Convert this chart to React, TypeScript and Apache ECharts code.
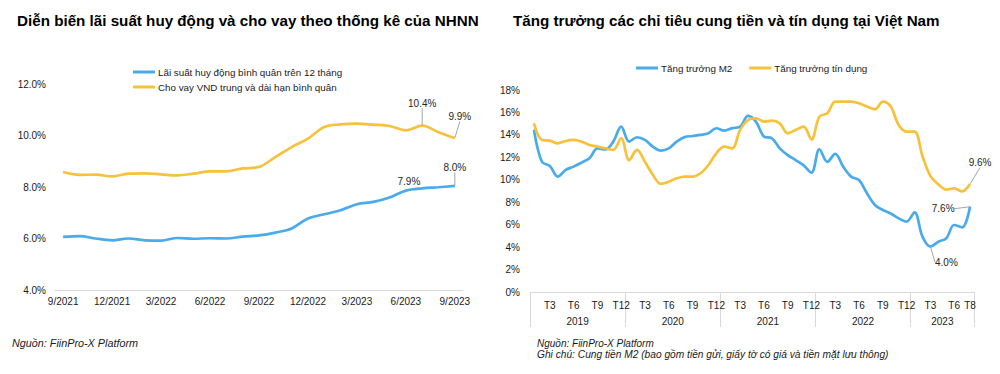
import React, { useEffect, useRef } from 'react';
import * as echarts from 'echarts';

const FONT = '"Liberation Sans", Arial, Helvetica, sans-serif';
const BLUE = '#4AABEB';
const YELLOW = '#F7C13C';
const TEXT = '#1a1a1a';
const AXIS_GRAY = '#d9d9d9';
const LEADER = '#a6a6a6';

// ---------- Left chart ----------
const leftTitle = 'Diễn biến lãi suất huy động và cho vay theo thống kê của NHNN';
const leftMonths = [
  '9/2021', '10/2021', '11/2021', '12/2021', '1/2022', '2/2022', '3/2022', '4/2022', '5/2022',
  '6/2022', '7/2022', '8/2022', '9/2022', '10/2022', '11/2022', '12/2022', '1/2023', '2/2023',
  '3/2023', '4/2023', '5/2023', '6/2023', '7/2023', '8/2023', '9/2023',
];
const depositName = 'Lãi suất huy động bình quân trên 12 tháng';
const lendingName = 'Cho vay VND trung và dài hạn bình quân';
const depositRate = [
  6.06, 6.09, 6.0, 5.93, 6.0, 5.93, 5.92, 6.02, 5.99, 6.01, 6.0, 6.07, 6.12,
  6.23, 6.39, 6.78, 6.94, 7.1, 7.33, 7.42, 7.59, 7.86, 7.95, 7.99, 8.04,
];
const lendingRate = [
  8.58, 8.47, 8.48, 8.41, 8.52, 8.53, 8.49, 8.45, 8.52, 8.61, 8.61, 8.72, 8.78,
  9.16, 9.55, 9.88, 10.33, 10.43, 10.46, 10.42, 10.37, 10.2, 10.38, 10.13, 9.9,
];
const leftYMin = 4;
const leftYMax = 12;
const leftYStep = 2;
const depositLabelled = [21, 24];
const lendingLabelled = [22, 24];

// ---------- Right chart ----------
const rightTitle = 'Tăng trưởng các chỉ tiêu cung tiền và tín dụng tại Việt Nam';
const years = [2019, 2020, 2021, 2022, 2023];
const monthsPerYear = [12, 12, 12, 12, 8];
const m2Name = 'Tăng trưởng M2';
const creditName = 'Tăng trưởng tín dụng';
const m2Growth = [
  14.44, 11.6, 11.23, 10.28, 10.88, 11.17, 11.53, 11.91, 12.8, 12.7, 13.4, 14.73,
  13.4, 13.79, 13.55, 12.95, 12.6, 12.8, 13.4, 13.8, 13.9, 14.0, 14.15, 14.59,
  14.38, 14.6, 14.73, 15.69, 15.18, 13.85, 13.7, 12.8, 12.2, 11.76, 11.3, 10.63,
  12.72, 11.6, 12.3, 11.17, 10.28, 9.98, 8.8, 7.75, 7.31, 7.0, 6.56, 6.27,
  7.1, 4.93, 4.04, 4.48, 4.78, 5.97, 5.76, 7.6,
];
const creditGrowth = [
  15.03, 13.55, 13.49, 13.25, 13.46, 13.55, 13.4, 13.1, 12.95, 12.8, 12.66, 13.7,
  11.76, 12.66, 11.6, 10.43, 9.63, 9.83, 10.13, 10.28, 10.28, 10.58, 11.32, 12.36,
  12.95, 12.8, 14.44, 15.33, 15.48, 15.18, 15.27, 15.03, 14.14, 14.44, 14.73, 13.6,
  15.63, 15.92, 16.96, 16.96, 16.96, 16.82, 16.52, 16.28, 16.96, 16.52, 14.88, 14.29,
  14.29, 12.1, 10.35, 9.6, 9.12, 9.24, 8.96, 9.62,
];
const rightYMin = 0;
const rightYMax = 18;
const rightYStep = 2;
const m2Labelled = [50, 55];
const creditLabelled = [55];
const leftSource = 'Nguồn: FiinPro-X Platform';
const rightSource = 'Nguồn: FiinPro-X Platform';
const rightNote = 'Ghi chú: Cung tiền M2 (bao gồm tiền gửi, giấy tờ có giá và tiền mặt lưu thông)';

const rightMonths: string[] = [];
years.forEach((y, i) => {
  for (let m = 1; m <= monthsPerYear[i]; m++) rightMonths.push(`${y}-${m}`);
});

// label placement styles (offsets in px, relative to the default label position)
const labelStyle: Record<string, Record<number, any>> = {
  deposit: {
    21: { position: 'top', dx: 3, dy: 1, line: false },
    24: { position: 'top', dx: 0, dy: -8, line: true },
  },
  lending: {
    22: { position: 'top', dx: 0, dy: -12, line: true },
    24: { position: 'top', dx: 5, dy: -11, line: true },
  },
  m2: {
    50: { position: 'bottom', dx: 16, dy: 5, line: true },
    55: { position: 'left', dx: -10, dy: 2, line: true },
  },
  credit: {
    55: { position: 'top', dx: 10, dy: -11, line: true },
  },
};

function buildData(values: number[], labelled: number[], key: string) {
  return values.map((v, i) => {
    if (!labelled.includes(i)) return v;
    const s = labelStyle[key][i];
    return {
      value: v,
      label: { show: true, position: s.position },
      labelLine: { show: s.line },
    };
  });
}

function layoutFor(key: string) {
  return (params: any) => {
    const s = labelStyle[key][params.dataIndex];
    if (!s) return {};
    return { dx: s.dx, dy: s.dy };
  };
}

function lineSeries(name: string, color: string, values: number[], labelled: number[], key: string, axisIndex: number) {
  return {
    name,
    type: 'line',
    xAxisIndex: axisIndex,
    yAxisIndex: axisIndex === 0 ? 0 : 1,
    data: buildData(values, labelled, key),
    smooth: 0.35,
    symbol: 'circle',
    symbolSize: 1,
    showSymbol: true,
    showAllSymbol: true,
    itemStyle: { color },
    lineStyle: { color, width: 2.7 },
    label: {
      show: false,
      color: '#262626',
      fontSize: 10,
      fontFamily: FONT,
      formatter: (p: any) => `${Number(p.value).toFixed(1)}%`,
    },
    labelLine: { show: true, lineStyle: { color: LEADER, width: 1 } },
    labelLayout: layoutFor(key),
    emphasis: { disabled: true },
  };
}

export default function App() {
  const ref = useRef<HTMLDivElement>(null);

  useEffect(() => {
    if (!ref.current) return;
    const chart = echarts.init(ref.current, undefined, { renderer: 'svg' });
    const axisLabelBase = { color: TEXT, fontSize: 10, fontFamily: FONT };

    chart.setOption({
      animation: false,
      backgroundColor: '#ffffff',
      textStyle: { fontFamily: FONT },
      title: [
        {
          text: leftTitle,
          left: 12,
          top: 8,
          textStyle: { fontSize: 15.2, fontWeight: 'bold', color: '#000', fontFamily: FONT },
        },
        {
          text: rightTitle,
          left: 508,
          top: 8,
          textStyle: { fontSize: 15.2, fontWeight: 'bold', color: '#000', fontFamily: FONT },
        },
      ],
      legend: [
        {
          data: [depositName, lendingName],
          orient: 'vertical',
          left: 128,
          top: 62,
          icon: 'rect',
          itemWidth: 22,
          itemHeight: 3,
          itemGap: 5,
          selectedMode: false,
          textStyle: { color: TEXT, fontSize: 9.8, fontFamily: FONT, padding: [0, 0, 0, -2] },
        },
        {
          data: [m2Name, creditName],
          orient: 'horizontal',
          left: 631,
          top: 58,
          icon: 'rect',
          itemWidth: 22,
          itemHeight: 3,
          itemGap: 17,
          selectedMode: false,
          textStyle: { color: TEXT, fontSize: 9.8, fontFamily: FONT, padding: [0, 0, 0, -2] },
        },
      ],
      grid: [
        { left: 55, width: 408, top: 84, bottom: 84, containLabel: false },
        { left: 530, width: 444, top: 90, bottom: 82, containLabel: false },
      ],
      xAxis: [
        {
          type: 'category',
          gridIndex: 0,
          data: leftMonths,
          boundaryGap: true,
          axisLine: { show: true, lineStyle: { color: AXIS_GRAY, width: 1 } },
          axisTick: { show: false },
          axisLabel: { ...axisLabelBase, interval: 2, margin: 6 },
        },
        {
          type: 'category',
          gridIndex: 1,
          data: rightMonths,
          boundaryGap: true,
          axisLine: { show: true, lineStyle: { color: AXIS_GRAY, width: 1 } },
          axisTick: {
            show: true,
            length: 35,
            interval: (idx: number) => idx % 12 === 0,
            lineStyle: { color: AXIS_GRAY, width: 1 },
          },
          axisLabel: {
            ...axisLabelBase,
            margin: 8,
            interval: (idx: number) => {
              const m = idx % 12;
              return m === 2 || m === 5 || m === 8 || m === 11 || idx === rightMonths.length - 1;
            },
            formatter: (v: string) => 'T' + v.split('-')[1],
          },
        },
        {
          type: 'category',
          gridIndex: 1,
          data: rightMonths,
          boundaryGap: true,
          position: 'bottom',
          axisLine: { show: false },
          axisTick: { show: false },
          axisLabel: {
            ...axisLabelBase,
            margin: 24,
            padding: [0, 0, 0, 8],
            interval: (idx: number) => {
              let start = 0;
              for (let i = 0; i < monthsPerYear.length; i++) {
                const mid = start + monthsPerYear[i] / 2 - 1;
                if (idx === mid) return true;
                start += monthsPerYear[i];
              }
              return false;
            },
            formatter: (v: string) => v.split('-')[0],
          },
        },
      ],
      yAxis: [
        {
          type: 'value',
          gridIndex: 0,
          min: leftYMin,
          max: leftYMax,
          interval: leftYStep,
          axisLine: { show: false },
          axisTick: { show: false },
          splitLine: { show: false },
          axisLabel: { ...axisLabelBase, margin: 9, formatter: (v: number) => `${v.toFixed(1)}%` },
        },
        {
          type: 'value',
          gridIndex: 1,
          min: rightYMin,
          max: rightYMax,
          interval: rightYStep,
          axisLine: { show: false },
          axisTick: { show: false },
          splitLine: { show: false },
          axisLabel: { ...axisLabelBase, margin: 10, formatter: (v: number) => `${v}%` },
        },
      ],
      series: [
        lineSeries(depositName, BLUE, depositRate, depositLabelled, 'deposit', 0),
        lineSeries(lendingName, YELLOW, lendingRate, lendingLabelled, 'lending', 0),
        lineSeries(m2Name, BLUE, m2Growth, m2Labelled, 'm2', 1),
        lineSeries(creditName, YELLOW, creditGrowth, creditLabelled, 'credit', 1),
      ],
      graphic: [
        {
          type: 'text',
          left: 12,
          top: 337,
          style: { text: leftSource, fill: TEXT, font: `italic 10.8px ${FONT}` },
        },
        {
          type: 'text',
          left: 537,
          top: 338,
          style: { text: rightSource, fill: TEXT, font: `italic 10px ${FONT}` },
        },
        {
          type: 'text',
          left: 537,
          top: 349,
          style: { text: rightNote, fill: TEXT, font: `italic 10.2px ${FONT}` },
        },
      ],
    });

    return () => chart.dispose();
  }, []);

  return (
    <div
      ref={ref}
      style={{ position: 'fixed', left: 0, top: 0, width: 1000, height: 374, background: '#fff' }}
    />
  );
}
